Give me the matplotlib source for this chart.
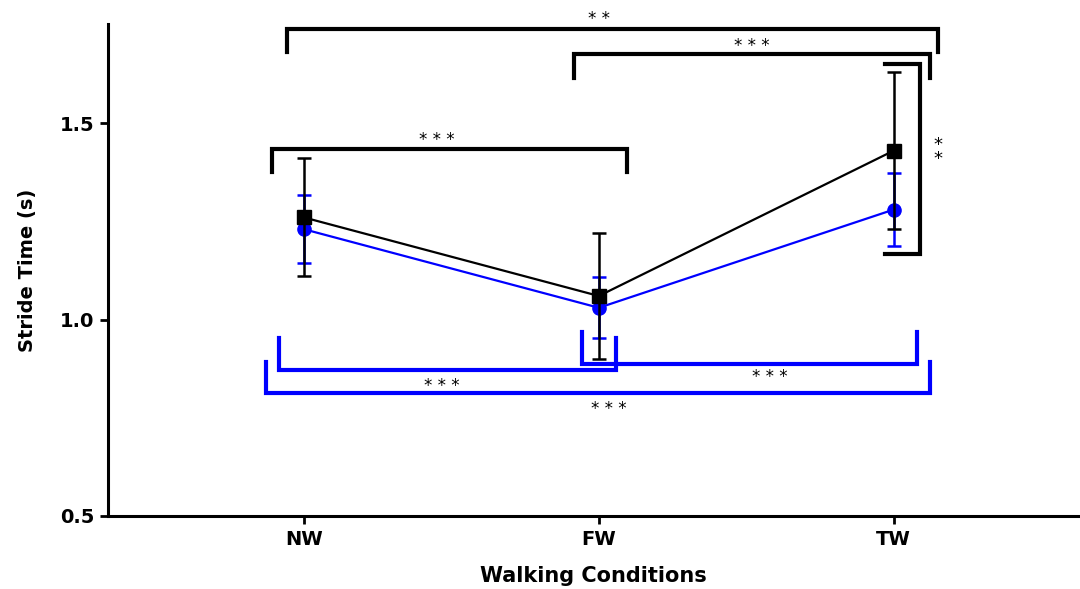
import matplotlib
matplotlib.use("Agg")
import matplotlib.pyplot as plt

plt.rcParams['font.family'] = ['DejaVu Sans']

categories = ["NW", "FW", "TW"]
black_mean = [1.26, 1.06, 1.43]
black_err = [0.15, 0.16, 0.20]
blue_mean = [1.23, 1.03, 1.28]
blue_err = [0.087, 0.078, 0.092]

# significance brackets (x1, x2, y_line, y_leg_end, label, label_x, label_y)
black_brackets = [
    (-0.058, 2.149, 1.740, 1.681, "* *", 1.0, 1.766),
    (0.915, 2.122, 1.677, 1.615, "* * *", 1.52, 1.697),
    (-0.108, 1.095, 1.433, 1.375, "* * *", 0.45, 1.458),
]
blue_brackets = [
    (-0.085, 1.058, 0.872, 0.953, "* * *", 0.468, 0.831),
    (0.942, 2.078, 0.887, 0.968, "* * *", 1.58, 0.854),
    (-0.129, 2.122, 0.813, 0.892, "* * *", 1.034, 0.772),
]
# vertical bracket at TW (x_line, x_arm_start, y_top, y_bottom, label, lx, ly)
vert_bracket = (2.088, 1.969, 1.650, 1.167, "* *", 2.149, 1.426)

fig = plt.figure(figsize=(10.8, 5.89), dpi=100)
ax = fig.add_axes([0.1, 0.124, 0.898, 0.835])

x = list(range(len(categories)))
ax.errorbar(x, blue_mean, yerr=blue_err, color='#0000ff', marker='o', markersize=9.5,
            linewidth=1.6, elinewidth=1.8, capsize=5, capthick=1.8, zorder=3)
ax.errorbar(x, black_mean, yerr=black_err, color='black', marker='s', markersize=10,
            linewidth=1.6, elinewidth=1.8, capsize=5, capthick=1.8, zorder=4)

lw = 3.0
for x1, x2, yl, yend, lab, lx, ly in black_brackets:
    ax.plot([x1, x1, x2, x2], [yend, yl, yl, yend], color='black', lw=lw,
            solid_joinstyle='miter', clip_on=False, zorder=2)
    ax.text(lx, ly, lab, ha='center', va='center', fontsize=12, color='black', clip_on=False)

for x1, x2, yl, ytop, lab, lx, ly in blue_brackets:
    ax.plot([x1, x1, x2, x2], [ytop, yl, yl, ytop], color='#0000ff', lw=lw,
            solid_joinstyle='miter', clip_on=False, zorder=2)
    ax.text(lx, ly, lab, ha='center', va='center', fontsize=12, color='black')

xl, xa, yt, yb, lab, lx, ly = vert_bracket
ax.plot([xa, xl, xl, xa], [yt, yt, yb, yb], color='black', lw=lw,
        solid_joinstyle='miter', clip_on=False, zorder=2)
ax.text(lx, ly, "*\n*", ha='center', va='center', fontsize=13, color='black',
        linespacing=0.7)

ax.set_xlim(-0.664, 2.624)
ax.set_ylim(0.5, 1.752)
ax.set_xticks(x)
ax.set_xticklabels(categories, fontsize=14, fontweight='bold')
ax.set_yticks([0.5, 1.0, 1.5])
ax.set_yticklabels(["0.5", "1.0", "1.5"], fontsize=14, fontweight='bold')
ax.tick_params(axis='both', width=2, length=6, pad=4)

for s in ['top', 'right']:
    ax.spines[s].set_visible(False)
for s in ['left', 'bottom']:
    ax.spines[s].set_linewidth(2.2)

ax.set_xlabel("Walking Conditions", fontsize=15, fontweight='bold', labelpad=12)
ax.set_ylabel("Stride Time (s)", fontsize=14, fontweight='bold', labelpad=16)

fig.savefig("out.png", dpi=100)
